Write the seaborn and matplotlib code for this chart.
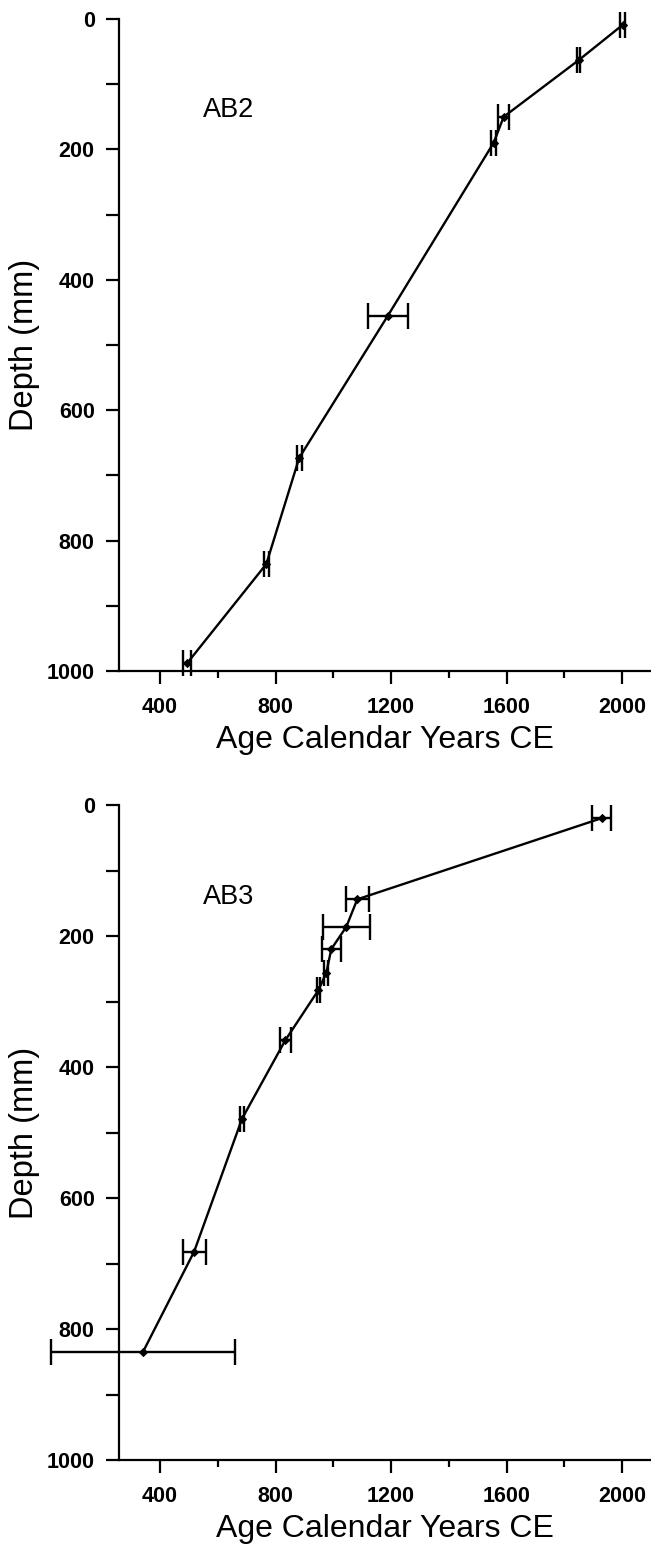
import numpy as np
import pandas as pd
import matplotlib
matplotlib.use("Agg")
import matplotlib.pyplot as plt
from matplotlib.ticker import MultipleLocator
import seaborn as sns

# AB2 core
ab2_age = [2002, 1850, 1590, 1555, 1189, 882, 768, 494]
ab2_depth = [9, 63, 150, 190, 455, 673, 836, 988]
ab2_err = [9, 5, 19, 10, 68, 9, 8, 13]

# AB3 core
ab3_age = [1930, 1083, 1045, 993, 976, 948, 834, 684, 518, 341]
ab3_depth = [20, 144, 186, 220, 256, 283, 359, 479, 682, 835]
ab3_err = [33, 40, 82, 33, 7, 6, 18, 8, 40, 318]

core_labels = ["AB2", "AB3"]
x_label = "Age Calendar Years CE"
y_label = "Depth (mm)"

sns.set_style("ticks")
plt.rcParams["font.family"] = ["Liberation Sans", "DejaVu Sans"]
plt.rcParams["text.color"] = "black"
plt.rcParams["axes.labelcolor"] = "black"
plt.rcParams["xtick.color"] = "black"
plt.rcParams["ytick.color"] = "black"

W, H = 651, 1544
fig = plt.figure(figsize=(W / 100, H / 100), dpi=100)
fig.patch.set_facecolor("white")

left = 119 / W
width = (W - 119) / W
ax_top = fig.add_axes([left, 1 - 671 / H, width, 652 / H])
ax_bot = fig.add_axes([left, 1 - 1460 / H, width, 655 / H])

datasets = [
    (ax_top, ab2_age, ab2_depth, ab2_err, core_labels[0]),
    (ax_bot, ab3_age, ab3_depth, ab3_err, core_labels[1]),
]

for ax, age, depth, err, lab in datasets:
    df = pd.DataFrame({"age": age, "depth": depth})
    sns.lineplot(data=df, x="age", y="depth", sort=False, estimator=None,
                 color="black", linewidth=1.7, marker="D", markersize=4.5,
                 markeredgecolor="black", ax=ax)
    eb = ax.errorbar(age, depth, xerr=err, fmt="none", ecolor="black",
                     elinewidth=1.7, capsize=9.4, capthick=1.7)
    for art in eb.lines[1] + eb.lines[2]:
        art.set_clip_on(False)
    for ln in ax.lines:
        ln.set_clip_on(False)

    ax.set_xlim(258, 2100)
    ax.set_ylim(1000, 0)
    ax.xaxis.set_major_locator(MultipleLocator(400))
    ax.xaxis.set_minor_locator(MultipleLocator(200))
    ax.yaxis.set_major_locator(MultipleLocator(200))
    ax.yaxis.set_minor_locator(MultipleLocator(100))
    ax.tick_params(axis="both", which="both", direction="out", width=1.6,
                   color="black", labelcolor="black", labelsize=15.5)
    ax.tick_params(axis="x", which="major", length=9.5, pad=9)
    ax.tick_params(axis="x", which="minor", length=5)
    ax.tick_params(axis="y", which="both", length=9.5, pad=8)
    for t in ax.get_xticklabels() + ax.get_yticklabels():
        t.set_fontweight("bold")
    sns.despine(ax=ax)
    for s in ["left", "bottom"]:
        ax.spines[s].set_linewidth(1.6)
        ax.spines[s].set_color("black")
    ax.set_xlabel(x_label, fontsize=23, labelpad=5, color="black")
    ax.set_ylabel(y_label, fontsize=23.5, labelpad=5, color="black")
    ax.text(0.158, 0.86, lab, transform=ax.transAxes, fontsize=19.5,
            ha="left", va="center", color="black")
    ax.set_facecolor("white")

fig.savefig("out.png", dpi=100, facecolor="white")
